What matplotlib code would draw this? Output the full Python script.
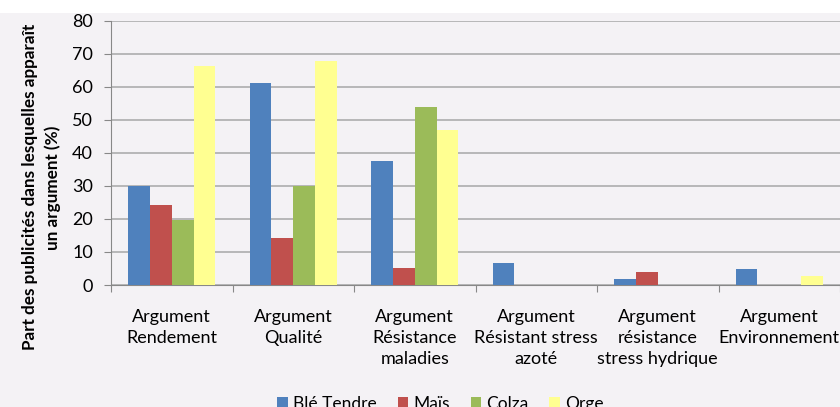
import numpy as np
import matplotlib.pyplot as plt
from matplotlib.patches import Rectangle

plt.rcParams['font.family'] = ['Lato', 'DejaVu Sans']

categories = ["Argument\nRendement", "Argument\nQualité", "Argument\nRésistance\nmaladies",
              "Argument\nRésistant stress\nazoté", "Argument\nrésistance\nstress hydrique",
              "Argument\nEnvironnement"]
series = ["Blé Tendre", "Maïs", "Colza", "Orge"]
ble = [30, 61.2, 37.6, 6.8, 1.8, 4.8]
mais = [24.2, 14.2, 5.1, 0, 3.9, 0]
colza = [19.7, 30, 54, 0, 0, 0]
orge = [66.4, 67.9, 47, 0, 0, 2.7]
colors = ["#4F81BD", "#C0504D", "#9BBB59", "#FFFF91"]

bg = "#F4F2F5"
fig = plt.figure(figsize=(8.4, 4.07), dpi=100, facecolor=bg)
# white strip at top
fig.patches.append(Rectangle((0, 1 - 13 / 407), 1, 13 / 407, transform=fig.transFigure,
                             facecolor="white", edgecolor="none", zorder=0))
ax = fig.add_axes([111 / 840, 1 - 285 / 407, 1 - 111 / 840, (285 - 21) / 407])
ax.set_facecolor(bg)

x = np.arange(len(categories))
w = 0.18
for i, (vals, name) in enumerate(zip([ble, mais, colza, orge], series)):
    ax.bar(x + (i - 1.5) * w, vals, width=w, color=colors[i], label=name, zorder=3)

ax.set_xlim(-0.5, len(categories) - 0.5)
ax.set_ylim(0, 80)
ax.set_yticks(range(0, 81, 10))
ax.yaxis.grid(True, color="#ADADAD", linewidth=1.2, zorder=0)
ax.set_xticks(np.arange(-0.5, len(categories), 1))
ax.set_xticklabels([])
ax.set_xticks(x, minor=True)
ax.set_xticklabels(categories, minor=True, fontsize=13, linespacing=1.4)
ax.tick_params(axis="x", which="minor", length=0, pad=17)
ax.tick_params(axis="x", which="major", length=5, color="#888888")
ax.tick_params(axis="y", length=5, color="#888888", labelsize=13, pad=8)
for s in ["top", "right"]:
    ax.spines[s].set_visible(False)
for s in ["left", "bottom"]:
    ax.spines[s].set_color("#888888")

ax.set_ylabel("Part des publicités dans lesquelles apparaît\nun argument (%)",
              fontsize=12.3, fontweight="bold", linespacing=1.5)
ax.yaxis.set_label_coords(-0.068, 0.37)

ax.legend(loc="upper center", bbox_to_anchor=(0.452, -0.36), ncol=4, frameon=False,
          fontsize=12.5, handlelength=0.6, handleheight=0.6, handletextpad=0.3,
          columnspacing=1.2)

fig.savefig("out.png", dpi=100, facecolor=bg)
